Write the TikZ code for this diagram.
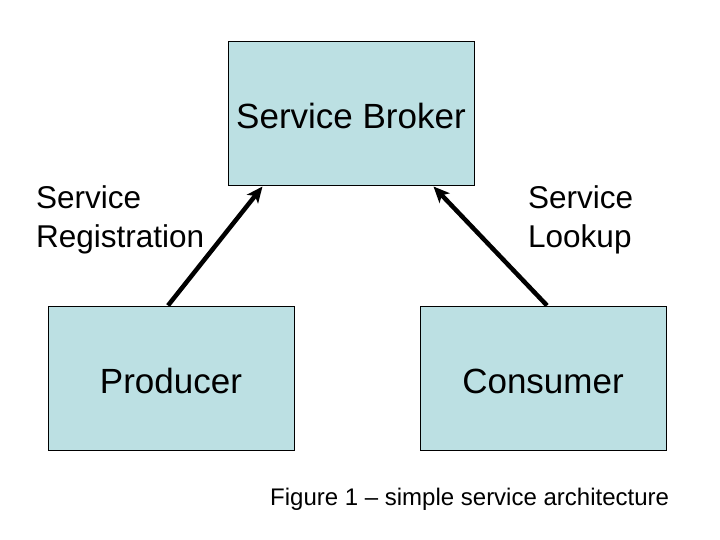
\documentclass[tikz,border=0pt]{standalone}
\usepackage{fontspec}
\setmainfont{Liberation Sans}
\usetikzlibrary{arrows.meta, positioning}

\begin{document}
\begin{tikzpicture}[x=1pt, y=-1pt, >={Stealth[length=16pt, width=14pt, inset=4pt]},
		service/.style={rectangle, draw=black, fill=servicebg, line width=1pt, minimum width=246pt, minimum height=144pt, align=center, text height=30pt, text depth=0pt, font=\fontsize{35}{42}\selectfont},
		label/.style={inner sep=0pt, align=left, anchor=west, font=\fontsize{31.5}{39}\selectfont},
		link/.style={->, line width=4.5pt}]
		\definecolor{servicebg}{HTML}{BCE0E3}
		\useasboundingbox[fill=white] (0,0) rectangle (720,540);
		
		\node[service] (broker) at (351, 114) {Service Broker};
		\node[service] (producer) at (171, 378) {Producer};
		\node[service] (consumer) at (543, 378) {Consumer};
		
		\node[label] (reglabel) at (36, 219.5) {Service\\Registration};
		\node[label] (lookuplabel) at (528, 219.5) {Service\\Lookup};
		\node[label, font=\fontsize{24}{29}\selectfont] (caption) at (270, 499.5) {Figure 1 -- simple service architecture};
		
		\draw[link] ([xshift=-3pt]producer.north) -- ([xshift=35pt]broker.south west);
		\draw[link] ([xshift=4pt]consumer.north) -- ([xshift=-41pt]broker.south east);
	\end{tikzpicture}
\end{document}
